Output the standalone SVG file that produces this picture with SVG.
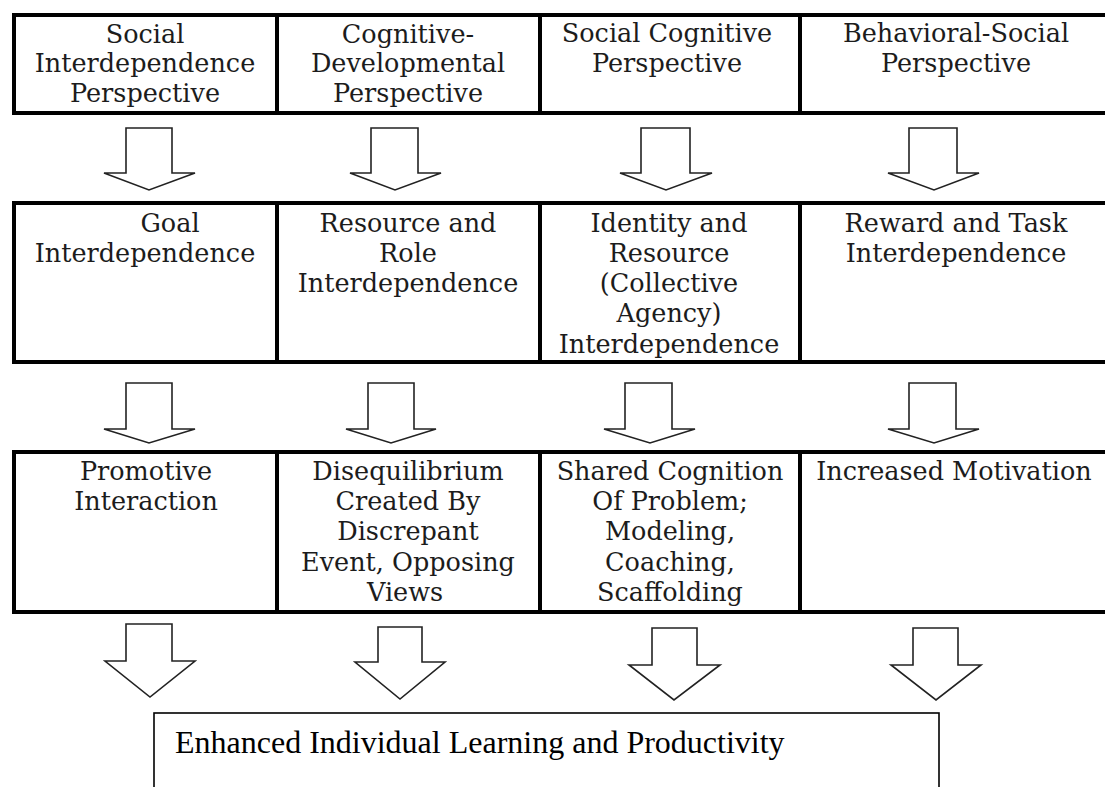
<svg xmlns="http://www.w3.org/2000/svg" width="1105" height="787" viewBox="0 0 1105 787">
  <style>
    .cell { fill: #ffffff; stroke: #000000; stroke-width: 4; }
    .lbl { font-family: "DejaVu Serif", "Liberation Serif", serif; font-size: 25.5px; fill: #1c1c1c; text-anchor: middle; }
    .arrow { fill: #ffffff; stroke: #222222; stroke-width: 1.6; stroke-linejoin: miter; }
    .final { fill: #ffffff; stroke: #000000; stroke-width: 1.6; }
    .finalText { font-family: "Liberation Serif", "Times New Roman", serif; font-size: 32px; fill: #000000; }
  </style>
  <rect width="1105" height="787" fill="#ffffff"/>

  <!-- Row 1: perspectives -->
  <g id="social-interdependence">
    <rect class="cell" x="14" y="15" width="263" height="98"/>
    <text class="lbl" x="145" y="43">Social</text>
    <text class="lbl" x="145" y="72">Interdependence</text>
    <text class="lbl" x="145" y="102">Perspective</text>
  </g>
  <g id="cognitive-developmental">
    <rect class="cell" x="277" y="15" width="263" height="98"/>
    <text class="lbl" x="408" y="43">Cognitive-</text>
    <text class="lbl" x="408" y="72">Developmental</text>
    <text class="lbl" x="408" y="102">Perspective</text>
  </g>
  <g id="social-cognitive">
    <rect class="cell" x="540" y="15" width="260" height="98"/>
    <text class="lbl" x="667" y="42">Social Cognitive</text>
    <text class="lbl" x="667" y="72">Perspective</text>
  </g>
  <g id="behavioral-social">
    <rect class="cell" x="800" y="15" width="320" height="98"/>
    <text class="lbl" x="956" y="42">Behavioral-Social</text>
    <text class="lbl" x="956" y="72">Perspective</text>
  </g>

  <!-- Row 2: interdependence types -->
  <g id="goal-interdependence">
    <rect class="cell" x="14" y="203" width="263" height="159"/>
    <text class="lbl" x="170" y="232">Goal</text>
    <text class="lbl" x="145" y="262">Interdependence</text>
  </g>
  <g id="resource-role">
    <rect class="cell" x="277" y="203" width="263" height="159"/>
    <text class="lbl" x="408" y="232">Resource and</text>
    <text class="lbl" x="408" y="262">Role</text>
    <text class="lbl" x="408" y="292">Interdependence</text>
  </g>
  <g id="identity-resource">
    <rect class="cell" x="540" y="203" width="260" height="159"/>
    <text class="lbl" x="669" y="232">Identity and</text>
    <text class="lbl" x="669" y="262">Resource</text>
    <text class="lbl" x="669" y="292">(Collective</text>
    <text class="lbl" x="669" y="322">Agency)</text>
    <text class="lbl" x="669" y="353">Interdependence</text>
  </g>
  <g id="reward-task">
    <rect class="cell" x="800" y="203" width="320" height="159"/>
    <text class="lbl" x="956" y="232">Reward and Task</text>
    <text class="lbl" x="956" y="262">Interdependence</text>
  </g>

  <!-- Row 3: mechanisms -->
  <g id="promotive-interaction">
    <rect class="cell" x="14" y="452" width="263" height="160"/>
    <text class="lbl" x="146" y="480">Promotive</text>
    <text class="lbl" x="146" y="510">Interaction</text>
  </g>
  <g id="disequilibrium">
    <rect class="cell" x="277" y="452" width="263" height="160"/>
    <text class="lbl" x="408" y="480">Disequilibrium</text>
    <text class="lbl" x="408" y="510">Created By</text>
    <text class="lbl" x="408" y="540">Discrepant</text>
    <text class="lbl" x="408" y="571">Event, Opposing</text>
    <text class="lbl" x="405" y="601">Views</text>
  </g>
  <g id="shared-cognition">
    <rect class="cell" x="540" y="452" width="260" height="160"/>
    <text class="lbl" x="670" y="480">Shared Cognition</text>
    <text class="lbl" x="670" y="510">Of Problem;</text>
    <text class="lbl" x="670" y="540">Modeling,</text>
    <text class="lbl" x="670" y="571">Coaching,</text>
    <text class="lbl" x="670" y="601">Scaffolding</text>
  </g>
  <g id="increased-motivation">
    <rect class="cell" x="800" y="452" width="320" height="160"/>
    <text class="lbl" x="954" y="480">Increased Motivation</text>
  </g>

  <!-- Outcome -->
  <g id="enhanced-learning">
    <rect class="final" x="154" y="713" width="785" height="90"/>
    <text class="finalText" x="175" y="753">Enhanced Individual Learning and Productivity</text>
  </g>

  <!-- Block arrows between rows -->
  <g id="connectors">
    <polygon class="arrow" points="126,128 172,128 172,173 195,173 149,190 104,173 126,173"/>
    <polygon class="arrow" points="371,128 418,128 418,173 441,173 395,190 350,173 371,173"/>
    <polygon class="arrow" points="641,128 690,128 690,173 712,173 666,190 620,173 641,173"/>
    <polygon class="arrow" points="909,128 957,128 957,173 979,173 934,190 888,173 909,173"/>

    <polygon class="arrow" points="126,383 172,383 172,429 195,429 149,443 104,429 126,429"/>
    <polygon class="arrow" points="368,383 414,383 414,429 436,429 391,443 346,429 368,429"/>
    <polygon class="arrow" points="625,383 672,383 672,429 695,429 650,443 604,429 625,429"/>
    <polygon class="arrow" points="909,383 956,383 956,429 979,429 934,443 888,429 909,429"/>

    <polygon class="arrow" points="126,624 172,624 172,661 195,661 150,697 105,661 126,661"/>
    <polygon class="arrow" points="378,627 422,627 422,662 445,662 400,699 355,662 378,662"/>
    <polygon class="arrow" points="652,628 697,628 697,665 720,665 674,700 629,665 652,665"/>
    <polygon class="arrow" points="913,628 958,628 958,665 981,665 936,700 891,665 913,665"/>
  </g>
</svg>
